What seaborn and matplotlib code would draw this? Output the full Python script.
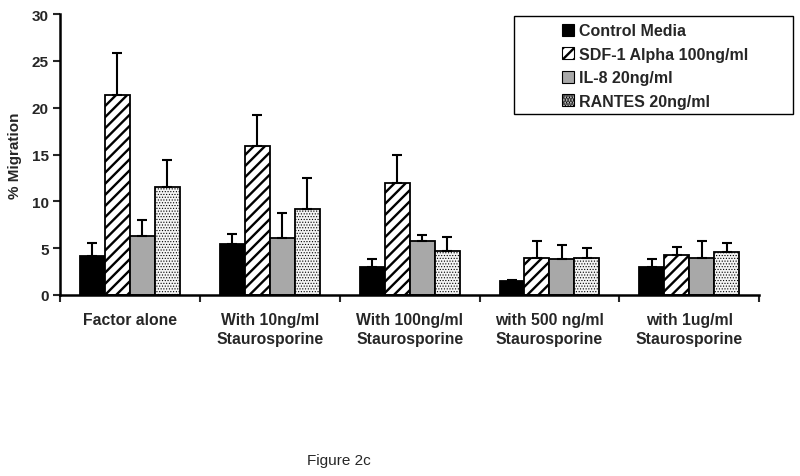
import numpy as np
import pandas as pd
import matplotlib
matplotlib.use("Agg")
import matplotlib.pyplot as plt
import matplotlib.patches as mpatches
import seaborn as sns

groups = ["Factor alone", "With 10ng/ml\nStaurosporine", "With 100ng/ml\nStaurosporine",
          "with 500 ng/ml\nStaurosporine", "with 1ug/ml\nStaurosporine"]
series = ["Control Media", "SDF-1 Alpha 100ng/ml", "IL-8 20ng/ml", "RANTES 20ng/ml"]

control_vals = [4.2, 5.4, 3.0, 1.5, 3.0]
sdf_vals = [21.4, 15.9, 11.95, 4.0, 4.25]
il8_vals = [6.35, 6.1, 5.8, 3.8, 4.0]
rantes_vals = [11.5, 9.2, 4.65, 4.0, 4.55]

control_err = [1.35, 1.15, 0.85, 0.1, 0.8]
sdf_err = [4.4, 3.35, 3.05, 1.8, 0.9]
il8_err = [1.65, 2.7, 0.65, 1.55, 1.75]
rantes_err = [2.9, 3.25, 1.5, 1.0, 1.0]

values = [control_vals, sdf_vals, il8_vals, rantes_vals]
errors = [control_err, sdf_err, il8_err, rantes_err]

rows = []
for s, vals in zip(series, values):
    for g, v in zip(groups, vals):
        rows.append({"group": g, "series": s, "value": v})
df = pd.DataFrame(rows)

sns.set_theme(style="white")
plt.rcParams["font.family"] = ["Liberation Sans", "DejaVu Sans"]
plt.rcParams["hatch.linewidth"] = 1.7

fig = plt.figure(figsize=(8.0, 4.77), dpi=100)
ax = fig.add_axes([0.075, 0.3795, 0.874, 0.589])

colors = ["black", "white", "#a8a8a8", "#f4f4f4"]
hatches = [None, "///", None, "......"]

sns.barplot(data=df, x="group", y="value", hue="series", order=groups, hue_order=series,
            palette=colors, width=0.714, gap=0, errorbar=None, ax=ax,
            edgecolor="black", linewidth=1.3, legend=False, saturation=1)

bar_containers = list(ax.containers)
for i, cont in enumerate(bar_containers):
    xs, ys = [], []
    for p in cont.patches:
        if hatches[i]:
            p.set_hatch(hatches[i])
            if i == 3 and hasattr(p, "set_hatch_linewidth"):
                p.set_hatch_linewidth(0.5)
        xs.append(p.get_x() + p.get_width() / 2)
        ys.append(p.get_height())
    err = errors[i]
    ax.errorbar(xs, ys, yerr=[np.zeros(len(err)), err], fmt="none", ecolor="black",
                elinewidth=1.5, capsize=3.3, capthick=1.5, zorder=5)

ax.set_ylim(0, 30)
ax.set_xlim(-0.5, len(groups) - 0.5)
ax.set_yticks(range(0, 31, 5))
ax.set_yticklabels([str(v) for v in range(0, 31, 5)], fontsize=11, fontweight="bold")
ax.set_xticks(range(len(groups)))
ax.set_xticklabels(groups, fontsize=11.3, fontweight="bold", linespacing=1.35)
ax.set_xticks(np.arange(-0.5, len(groups), 1.0), minor=True)
ax.tick_params(axis="x", which="major", length=0, pad=12)
ax.tick_params(axis="x", which="minor", length=5, width=1.5, direction="out", bottom=True)
ax.tick_params(axis="y", length=5, width=1.5, direction="out", left=True, pad=3)
ax.set_xlabel("")
ax.set_ylabel("% Migration", fontsize=11, fontweight="bold")
ax.yaxis.set_label_coords(-0.054, 0.5)

for side in ["top", "right"]:
    ax.spines[side].set_visible(False)
for side in ["left", "bottom"]:
    ax.spines[side].set_linewidth(1.8)
    ax.spines[side].set_color("black")

handles = [mpatches.Patch(facecolor=c, edgecolor="black", hatch=h, linewidth=0.8)
           for c, h in zip(colors, hatches)]
leg = fig.legend(handles, series, loc="center", bbox_to_anchor=(655 / 800, 1 - 67 / 477),
                 frameon=False, prop={"size": 11.5, "weight": "bold"},
                 handlelength=0.75, handleheight=0.75, handletextpad=0.3, labelspacing=0.53)
fig.add_artist(mpatches.Rectangle((514 / 800, 1 - 115 / 477), (793 - 514) / 800, (115 - 17) / 477,
                                  transform=fig.transFigure, fill=False, edgecolor="black",
                                  linewidth=1.0))

fig.text(339 / 800, 1 - 461 / 477, "Figure 2c", ha="center", va="center", fontsize=11)

fig.savefig("out.png", dpi=100)
